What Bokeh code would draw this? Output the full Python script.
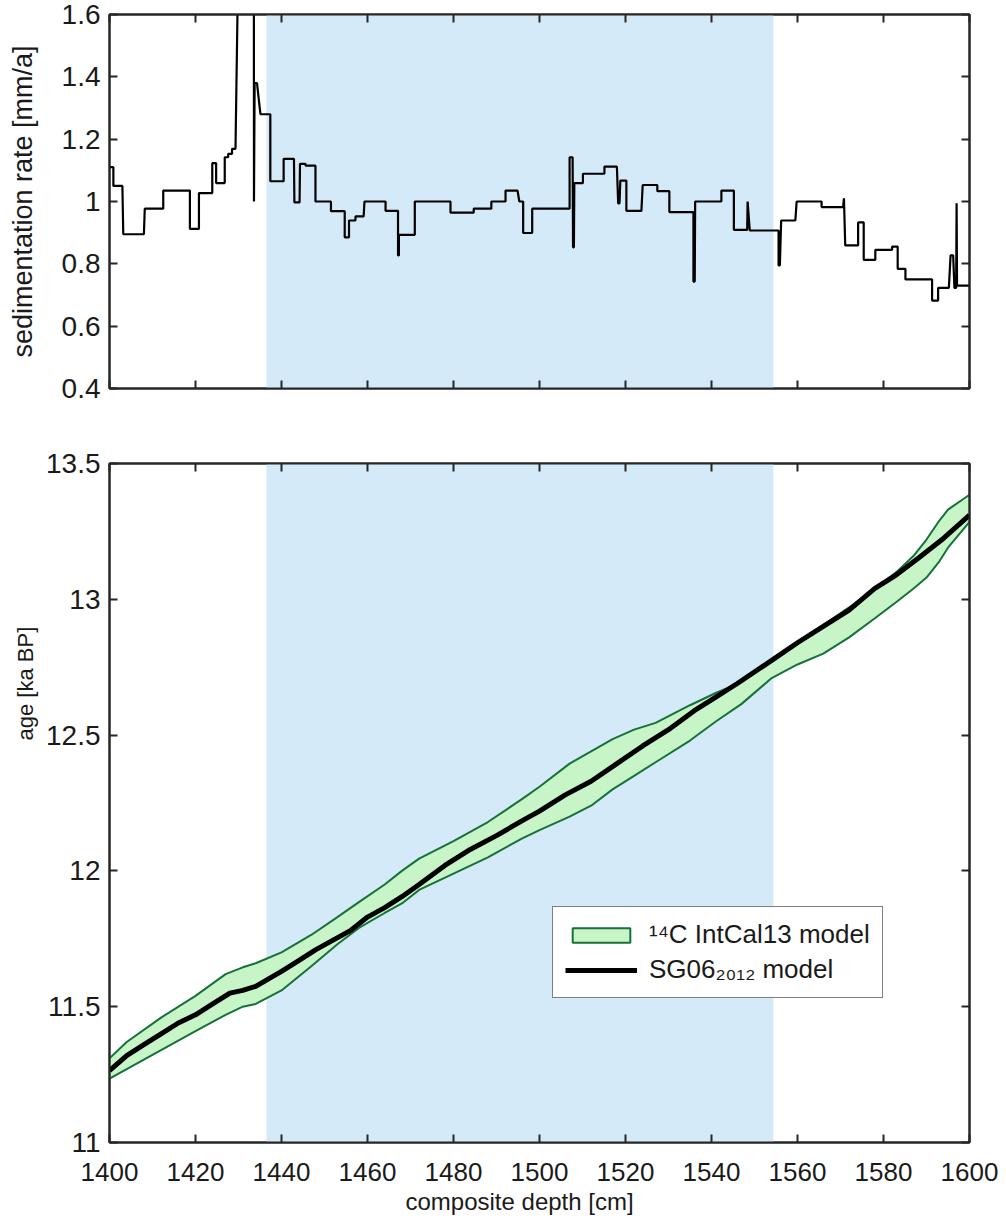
from bokeh.plotting import figure
from bokeh.models import (LinearAxis, FixedTicker, BoxAnnotation, Legend, LegendItem,
                          Range1d, Title)
from bokeh.layouts import column
from bokeh.embed import file_html
from bokeh.resources import INLINE

# ---------------- data ----------------
depth_ticks = [1400, 1420, 1440, 1460, 1480, 1500, 1520, 1540, 1560, 1580, 1600]
depth_tick_labels = ["1400", "1420", "1440", "1460", "1480", "1500", "1520", "1540", "1560", "1580", "1600"]
rate_ticks = [0.4, 0.6, 0.8, 1.0, 1.2, 1.4, 1.6]
rate_tick_labels = ["0.4", "0.6", "0.8", "1", "1.2", "1.4", "1.6"]
age_ticks = [11.0, 11.5, 12.0, 12.5, 13.0, 13.5]
age_tick_labels = ["11", "11.5", "12", "12.5", "13", "13.5"]

shade_start = 1436.5
shade_end = 1554.4

# sedimentation rate polyline (depth cm, rate mm/a)
sr_depth = [1400.0, 1400.9, 1400.9, 1403.0, 1403.2, 1408.0, 1408.2, 1412.5, 1412.5, 1418.7,
            1418.7, 1420.8, 1420.8, 1423.9, 1423.9, 1424.8, 1424.8, 1426.8, 1426.8, 1427.6,
            1427.6, 1428.5, 1428.5, 1429.3, 1430.4, 1433.55, 1433.6, 1433.75, 1434.3, 1435.1,
            1437.4, 1437.4, 1440.5, 1440.5, 1442.9, 1443.0, 1444.2, 1444.3, 1445.6, 1445.6,
            1447.9, 1447.9, 1451.5, 1451.5, 1454.7, 1454.7, 1455.7, 1455.7, 1457.2, 1457.2,
            1459.1, 1459.3, 1464.2, 1464.2, 1467.1, 1467.1, 1467.3, 1467.3, 1471.0, 1471.0,
            1479.3, 1479.3, 1484.7, 1484.7, 1488.8, 1488.8, 1492.1, 1492.1, 1494.9, 1495.3,
            1496.2, 1496.2, 1498.3, 1498.3, 1507.0, 1507.0, 1507.7, 1507.8, 1508.0, 1508.1,
            1510.1, 1510.1, 1515.1, 1515.1, 1518.0, 1518.3, 1518.6, 1518.8, 1520.2, 1520.2,
            1523.7, 1524.0, 1527.4, 1527.4, 1530.2, 1530.2, 1535.8, 1535.8, 1536.1, 1536.2,
            1542.3, 1542.3, 1545.2, 1545.2, 1548.3, 1548.4, 1548.9, 1555.6, 1555.6, 1555.9,
            1556.2, 1559.5, 1559.8, 1565.6, 1565.6, 1570.6, 1570.8, 1571.1, 1574.1, 1574.1,
            1575.4, 1575.4, 1578.1, 1578.1, 1582.0, 1582.0, 1583.3, 1583.3, 1585.1, 1585.1,
            1591.3, 1591.3, 1592.7, 1592.7, 1595.2, 1595.6, 1596.2, 1596.5, 1596.9, 1597.0,
            1597.1, 1600.0]
sr_rate = [1.11, 1.11, 1.05, 1.05, 0.895, 0.895, 0.977, 0.977, 1.035, 1.035,
           0.912, 0.912, 1.027, 1.027, 1.123, 1.123, 1.059, 1.059, 1.142, 1.142,
           1.153, 1.153, 1.169, 1.169, 2.2, 2.2, 1.0, 1.38, 1.38, 1.28,
           1.28, 1.065, 1.065, 1.137, 1.137, 0.997, 0.997, 1.121, 1.121, 1.115,
           1.115, 1.0, 1.0, 0.969, 0.969, 0.885, 0.885, 0.939, 0.939, 0.952,
           0.952, 1.0, 1.0, 0.97, 0.97, 0.827, 0.827, 0.893, 0.893, 1.0,
           1.0, 0.964, 0.964, 0.977, 0.977, 1.0, 1.0, 1.035, 1.035, 1.0,
           1.0, 0.899, 0.899, 0.977, 0.977, 1.142, 1.142, 0.853, 0.853, 1.059,
           1.059, 1.089, 1.089, 1.112, 1.112, 0.994, 0.994, 1.067, 1.067, 0.97,
           0.97, 1.053, 1.053, 1.033, 1.033, 0.966, 0.966, 0.743, 0.743, 1.0,
           1.0, 1.035, 1.035, 0.909, 0.909, 1.0, 0.907, 0.907, 0.795, 0.795,
           0.939, 0.939, 1.0, 1.0, 0.982, 0.982, 1.01, 0.859, 0.859, 0.933,
           0.933, 0.813, 0.813, 0.845, 0.845, 0.855, 0.855, 0.784, 0.784, 0.75,
           0.75, 0.682, 0.682, 0.723, 0.723, 0.827, 0.827, 0.723, 0.723, 0.994,
           0.73, 0.73]

# 14C IntCal13 model envelope (ka BP)
band_depth = [1400, 1404, 1412, 1420, 1427, 1431, 1434, 1440, 1447, 1453, 1458, 1464, 1468,
              1472, 1480, 1488, 1496, 1500, 1507, 1512, 1517, 1522, 1527, 1535, 1541, 1547,
              1554, 1560, 1566, 1572, 1578, 1583, 1587, 1590, 1593, 1595, 1600]
band_upper = [11.31, 11.37, 11.46, 11.54, 11.62, 11.645, 11.66, 11.70, 11.765, 11.83, 11.885,
              11.95, 12.0, 12.045, 12.11, 12.18, 12.265, 12.31, 12.395, 12.44, 12.485, 12.52,
              12.545, 12.61, 12.655, 12.695, 12.78, 12.845, 12.905, 12.97, 13.04, 13.10,
              13.16, 13.22, 13.29, 13.33, 13.385]
band_lower = [11.235, 11.27, 11.34, 11.41, 11.47, 11.50, 11.51, 11.56, 11.65, 11.73, 11.79,
              11.845, 11.88, 11.93, 11.99, 12.05, 12.12, 12.15, 12.20, 12.24, 12.30, 12.35,
              12.40, 12.48, 12.55, 12.615, 12.71, 12.76, 12.80, 12.86, 12.93, 12.99, 13.04,
              13.08, 13.14, 13.19, 13.285]

# SG06_2012 model
sg_depth = [1400, 1404, 1408, 1412, 1416, 1420, 1424, 1428, 1431, 1434, 1440, 1444, 1448,
            1452, 1456, 1460, 1464, 1468, 1472, 1478, 1484, 1490, 1496, 1500, 1506, 1512,
            1518, 1524, 1530, 1536, 1540, 1546, 1554, 1560, 1566, 1572, 1578, 1583, 1588,
            1594, 1600]
sg_age = [11.265, 11.32, 11.36, 11.40, 11.44, 11.47, 11.51, 11.55, 11.56, 11.575, 11.63,
          11.67, 11.71, 11.745, 11.78, 11.83, 11.865, 11.905, 11.95, 12.02, 12.08, 12.13,
          12.185, 12.22, 12.28, 12.33, 12.395, 12.46, 12.52, 12.59, 12.63, 12.69, 12.775,
          12.84, 12.90, 12.96, 13.04, 13.09, 13.15, 13.225, 13.31]

# ---------------- style ----------------
FONT = "Liberation Sans"
AX = "#262626"
TXT = "#1a1a1a"
SHADE = "#d4eaf8"
GREEN_FILL = "#c8f5c8"
GREEN_LINE = "#17703a"


def tick_axis(ticks):
    # mirrored tick-only axis (MATLAB "box on"), no labels drawn
    return LinearAxis(ticker=FixedTicker(ticks=ticks), major_label_text_font_size="1px",
                      major_label_text_color=None, major_label_standoff=0,
                      major_tick_in=8, major_tick_out=0,
                      major_tick_line_width=2, major_tick_line_color=AX,
                      axis_line_color=AX, axis_line_width=2, minor_tick_line_color=None)


def style(p, yticks, ylabels, show_x):
    p.grid.visible = False
    p.outline_line_color = AX
    p.outline_line_width = 2
    xax = p.xaxis[0]
    yax = p.yaxis[0]
    for ax in (xax, yax):
        ax.axis_line_color = AX
        ax.axis_line_width = 2
        ax.major_tick_line_color = AX
        ax.major_tick_line_width = 2
        ax.major_tick_in = 8
        ax.major_tick_out = 0
        ax.minor_tick_line_color = None
        ax.major_label_text_font = FONT
        ax.major_label_text_color = TXT
        ax.axis_label_text_font = FONT
        ax.axis_label_text_font_style = "normal"
        ax.axis_label_text_color = TXT
    xax.ticker = FixedTicker(ticks=depth_ticks)
    xax.major_label_overrides = dict(zip(depth_ticks, depth_tick_labels))
    yax.ticker = FixedTicker(ticks=yticks)
    yax.major_label_overrides = dict(zip(yticks, ylabels))
    yax.major_label_text_font_size = "28px"
    yax.major_label_standoff = 9
    if show_x:
        xax.major_label_text_font_size = "26px"
        xax.major_label_standoff = 20
    else:
        xax.major_label_text_font_size = "1px"
        xax.major_label_text_color = None
        xax.major_label_standoff = 0
    p.add_layout(tick_axis(depth_ticks), "above")
    p.add_layout(tick_axis(yticks), "right")


# ---------------- top panel ----------------
p1 = figure(width=1006, height=420, output_backend="svg", toolbar_location=None,
            x_range=Range1d(1400, 1600), y_range=Range1d(0.4, 1.6),
            min_border_left=109, min_border_right=37, min_border_top=14, min_border_bottom=32,
            background_fill_color="white", border_fill_color="white")
p1.add_layout(BoxAnnotation(left=shade_start, right=shade_end, fill_color=SHADE, fill_alpha=1,
                            line_color=None, level="underlay"))
p1.line(sr_depth, sr_rate, line_color="black", line_width=2.2)
style(p1, rate_ticks, rate_tick_labels, False)
p1.yaxis[0].axis_label = "sedimentation rate [mm/a]"
p1.yaxis[0].axis_label_text_font_size = "27px"
p1.yaxis[0].axis_label_standoff = 21

# ---------------- bottom panel ----------------
p2 = figure(width=1006, height=808, output_backend="svg", toolbar_location=None,
            x_range=Range1d(1400, 1600), y_range=Range1d(11, 13.5),
            min_border_left=109, min_border_right=37, min_border_top=43, min_border_bottom=86,
            background_fill_color="white", border_fill_color="white")
p2.add_layout(BoxAnnotation(left=shade_start, right=shade_end, fill_color=SHADE, fill_alpha=1,
                            line_color=None, level="underlay"))
poly_x = list(band_depth) + list(reversed(band_depth))
poly_y = list(band_upper) + list(reversed(band_lower))
band_r = p2.patch(poly_x, poly_y, fill_color=GREEN_FILL, fill_alpha=1,
                  line_color=GREEN_LINE, line_width=2)
sg_r = p2.line(sg_depth, sg_age, line_color="black", line_width=5)
style(p2, age_ticks, age_tick_labels, True)

p2.add_layout(Title(text="age [ka BP]", align="left", offset=402, text_font=FONT,
                    text_font_size="22px", text_font_style="normal", text_color=TXT,
                    standoff=12), "left")
p2.add_layout(Title(text="composite depth [cm]", align="left", offset=296, text_font=FONT,
                    text_font_size="24px", text_font_style="normal", text_color=TXT,
                    standoff=4), "below")

legend = Legend(items=[LegendItem(label="\u00b9\u2074C IntCal13 model", renderers=[band_r]),
                       LegendItem(label="SG06\u2082\u2080\u2081\u2082 model", renderers=[sg_r])],
                location=(443, 144), orientation="vertical",
                label_text_font=FONT, label_text_font_size="26px", label_text_color=TXT,
                glyph_width=72, glyph_height=18, label_standoff=12, spacing=4,
                padding=12, margin=0, border_line_color="black", border_line_width=1.5,
                background_fill_color="white", background_fill_alpha=1)
p2.add_layout(legend)

layout = column(p1, p2, spacing=0)
open("out.html", "w").write(file_html(layout, INLINE))
